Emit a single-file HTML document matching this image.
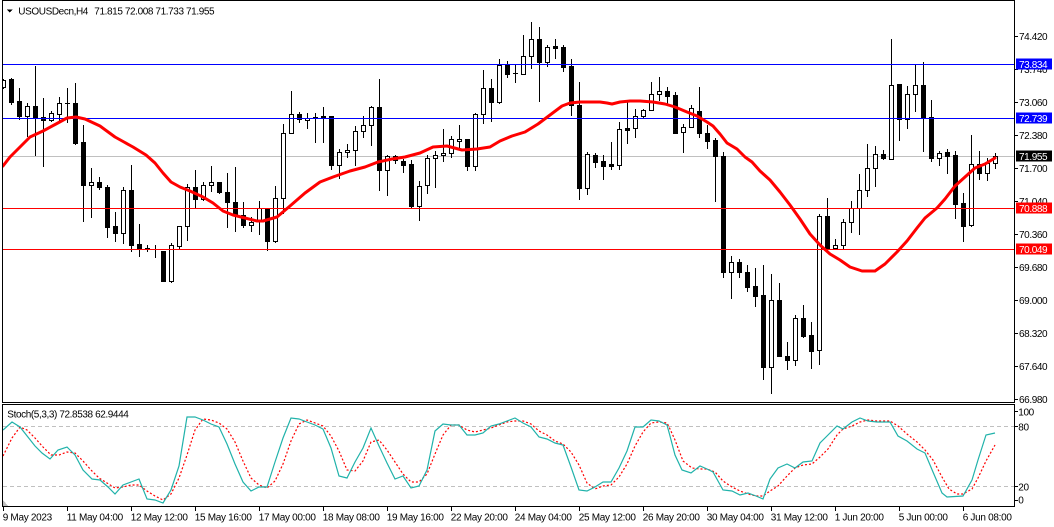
<!DOCTYPE html>
<html><head><meta charset="utf-8"><style>
html,body{margin:0;padding:0;background:#fff;width:1054px;height:527px;overflow:hidden}
svg{display:block}
text{font-family:"Liberation Sans",Arial,sans-serif;font-size:10px;fill:#000;letter-spacing:-0.4px}
.t{letter-spacing:-0.3px}
.w{fill:#fff}
</style></head><body>
<svg width="1054" height="527" viewBox="0 0 1054 527" xmlns="http://www.w3.org/2000/svg" shape-rendering="crispEdges">
<defs>
<clipPath id="cm"><rect x="3" y="1" width="1011" height="401"/></clipPath>
<clipPath id="cs"><rect x="3" y="405" width="1011" height="101"/></clipPath>
</defs>
<rect width="1054" height="527" fill="#fff"/>
<!-- frames -->
<rect x="2.5" y="0.5" width="1012" height="402" fill="none" stroke="#000"/>
<rect x="2.5" y="404.5" width="1012" height="102" fill="none" stroke="#000"/>

<g clip-path="url(#cm)">
<line x1="2" y1="156.5" x2="1014" y2="156.5" stroke="#C0C0C0"/>
<g id="candles"></g>
<line x1="2" y1="64.5" x2="1014" y2="64.5" stroke="#0000FF"/>
<line x1="2" y1="118.5" x2="1014" y2="118.5" stroke="#0000FF"/>
<line x1="2" y1="208.5" x2="1014" y2="208.5" stroke="#FF0000"/>
<line x1="2" y1="249.5" x2="1014" y2="249.5" stroke="#FF0000"/>
<polyline shape-rendering="auto" fill="none" stroke="#FF0000" stroke-width="3" stroke-linejoin="round" stroke-linecap="round" points="3,166 10,157 20,147 30,137 43,131 56,124 67,118 76,117 85,119 100,126 115,137 124,142 133,147 146,155 155,163 163,173 171,182 180,187 190,191 203,197 213,203 223,211 233,215 245,218 257,221 263,221 277,217 290,206 305,193 320,182 333,177 350,171 365,167 378,162 392,159 405,157 420,153 433,147 447,146 462,150 477,149 490,147 500,141 512,136 525,132 538,124 550,115 562,106 570,103 580,102 600,102 607,103 612,104 620,102 630,101 640,101 653,102 665,104 675,107 687,112 697,116 707,122 713,126 720,134 727,143 737,149 745,157 752,162 760,171 770,180 780,192 790,205 800,219 810,234 820,245 830,254 840,260 850,267 862,271 875,271 885,264 897,252 907,241 917,228 925,218 937,208 945,199 955,186 965,177 975,168 985,164 995,158"/>
</g>

<!-- title -->
<polygon points="7,9.5 12.5,9.5 9.75,12.5" fill="#000"/>
<text x="18.3" y="14.3">USOUSDecn,H4</text>
<text x="94.3" y="14.3">71.815 72.008 71.733 71.955</text>

<!-- price axis -->
<g stroke="#000">
<line x1="1015" y1="36.5" x2="1018" y2="36.5"/><line x1="1015" y1="69.5" x2="1018" y2="69.5"/>
<line x1="1015" y1="102.5" x2="1018" y2="102.5"/><line x1="1015" y1="135.5" x2="1018" y2="135.5"/>
<line x1="1015" y1="168.5" x2="1018" y2="168.5"/><line x1="1015" y1="201.5" x2="1018" y2="201.5"/>
<line x1="1015" y1="234.5" x2="1018" y2="234.5"/><line x1="1015" y1="267.5" x2="1018" y2="267.5"/>
<line x1="1015" y1="300.5" x2="1018" y2="300.5"/><line x1="1015" y1="333.5" x2="1018" y2="333.5"/>
<line x1="1015" y1="366.5" x2="1018" y2="366.5"/><line x1="1015" y1="399.5" x2="1018" y2="399.5"/>
</g>
<text x="1019" y="39.8">74.420</text>
<text x="1019" y="72.8">73.740</text>
<text x="1019" y="105.8">73.060</text>
<text x="1019" y="138.8">72.380</text>
<text x="1019" y="171.8">71.700</text>
<text x="1019" y="204.8">71.040</text>
<text x="1019" y="237.8">70.360</text>
<text x="1019" y="270.8">69.680</text>
<text x="1019" y="303.8">69.000</text>
<text x="1019" y="336.8">68.320</text>
<text x="1019" y="369.8">67.640</text>
<text x="1019" y="402.8">66.980</text>

<rect x="1016" y="58.5" width="36" height="11" fill="#0000FF"/>
<text class="w" x="1019" y="67.8">73.834</text>
<rect x="1016" y="112.5" width="36" height="11" fill="#0000FF"/>
<text class="w" x="1019" y="121.8">72.739</text>
<rect x="1016" y="150.5" width="36" height="11" fill="#000"/>
<text class="w" x="1019" y="159.8">71.955</text>
<rect x="1016" y="202.5" width="36" height="11" fill="#FF0000"/>
<text class="w" x="1019" y="211.8">70.888</text>
<rect x="1016" y="243.5" width="36" height="11" fill="#FF0000"/>
<text class="w" x="1019" y="252.8">70.049</text>

<!-- stochastic -->
<g clip-path="url(#cs)">
<line x1="3" y1="426.5" x2="1014" y2="426.5" stroke="#C0C0C0" stroke-dasharray="4,3"/>
<line x1="3" y1="486.5" x2="1014" y2="486.5" stroke="#C0C0C0" stroke-dasharray="4,3"/>
<polyline shape-rendering="auto" fill="none" stroke="#FF0000" stroke-width="1.2" stroke-dasharray="2,2" points="3,456 12,438 20,427 27,430 35,438 43,447 51,455 59,455 67,452 75,453 83,461 91,470 99,478 107,483 115,488 123,487 131,485 139,485 147,491 155,496 163,500 171,494 179,478 187,455 195,430 203,419 211,420 219,423 227,429 235,442 243,461 251,478 259,485 267,488 275,481 283,464 291,441 299,424 307,420 315,423 323,426 331,436 339,451 347,470 355,471 363,461 371,442 379,440 387,450 395,462 403,474 411,482 419,482 427,474 435,454 443,435 451,425 459,425 467,430 475,432 483,430 491,428 499,425 507,422 515,421 523,421 531,424 539,431 547,435 555,441 563,444 571,452 579,465 587,483 595,489 603,486 611,485 619,477 627,464 635,446 643,432 651,423 659,422 667,423 670,429 675,440 683,461 692,468 700,469 707,469 715,472 723,481 732,487 740,491 748,494 756,496 763,496 770,491 778,486 787,476 795,468 803,465 812,464 820,457 828,449 837,435 843,429 852,426 860,422 868,420 877,421 890,421 898,426 907,434 917,442 925,450 933,460 942,477 949,489 957,494 963,494 972,489 978,478 986,461 995,445"/>
<polyline shape-rendering="auto" fill="none" stroke="#20B2AA" stroke-width="1.2" points="3,430 12,422 20,427 35,446 42,453 50,459 58,450 67,447 75,455 83,470 92,479 100,480 108,487 115,494 123,485 131,482 139,479 147,499 155,500 163,503 171,490 179,466 187,417 195,417 203,420 211,424 219,427 227,444 235,464 243,482 251,491 259,487 267,487 275,462 283,438 291,418 299,419 307,422 315,425 323,429 331,448 339,476 347,478 355,462 363,448 371,428 379,446 387,463 395,479 403,476 411,488 419,486 427,470 435,431 443,424 451,425 459,425 467,435 475,435 483,433 491,426 499,424 507,421 515,418 523,423 531,427 539,437 547,439 555,443 563,445 571,467 579,490 587,491 595,487 603,482 611,482 619,468 627,451 635,427 643,427 651,420 659,421 667,425 670,436 675,455 682,470 691,473 700,466 707,469 713,472 723,490 732,491 740,495 748,493 756,496 763,499 770,479 778,468 787,464 795,468 803,462 812,461 820,443 827,436 837,426 843,429 852,422 860,418 868,421 877,422 890,422 898,436 907,441 917,449 925,453 933,472 942,493 947,497 963,496 972,480 978,460 986,435 995,433"/>
<polygon points="3,500 3,506 8,506" fill="#BDBDBD"/>
</g>
<text x="7.3" y="417.6">Stoch(5,3,3) 72.8538 62.9444</text>
<g stroke="#000">
<line x1="1015" y1="411.5" x2="1018" y2="411.5"/><line x1="1015" y1="426.5" x2="1018" y2="426.5"/>
<line x1="1015" y1="486.5" x2="1018" y2="486.5"/><line x1="1015" y1="500.5" x2="1018" y2="500.5"/>
</g>
<text x="1018.3" y="415.3">100</text>
<text x="1018.3" y="430.3">80</text>
<text x="1018.3" y="490.3">20</text>
<text x="1018.3" y="503.6">0</text>

<!-- time axis -->
<g stroke="#000">
<line x1="3.5" y1="507" x2="3.5" y2="511"/><line x1="67.5" y1="507" x2="67.5" y2="511"/>
<line x1="131.5" y1="507" x2="131.5" y2="511"/><line x1="195.5" y1="507" x2="195.5" y2="511"/>
<line x1="259.5" y1="507" x2="259.5" y2="511"/><line x1="323.5" y1="507" x2="323.5" y2="511"/>
<line x1="387.5" y1="507" x2="387.5" y2="511"/><line x1="451.5" y1="507" x2="451.5" y2="511"/>
<line x1="515.5" y1="507" x2="515.5" y2="511"/><line x1="579.5" y1="507" x2="579.5" y2="511"/>
<line x1="643.5" y1="507" x2="643.5" y2="511"/><line x1="707.5" y1="507" x2="707.5" y2="511"/>
<line x1="771.5" y1="507" x2="771.5" y2="511"/><line x1="835.5" y1="507" x2="835.5" y2="511"/>
<line x1="899.5" y1="507" x2="899.5" y2="511"/><line x1="963.5" y1="507" x2="963.5" y2="511"/>
</g>
<g class="t">
<text class="t" x="2.7" y="520.4">9 May 2023</text>
<text class="t" x="66.7" y="520.4">11 May 04:00</text>
<text class="t" x="130.7" y="520.4">12 May 12:00</text>
<text class="t" x="194.7" y="520.4">15 May 16:00</text>
<text class="t" x="258.7" y="520.4">17 May 00:00</text>
<text class="t" x="322.7" y="520.4">18 May 08:00</text>
<text class="t" x="386.7" y="520.4">19 May 16:00</text>
<text class="t" x="450.7" y="520.4">22 May 20:00</text>
<text class="t" x="514.7" y="520.4">24 May 04:00</text>
<text class="t" x="578.7" y="520.4">25 May 12:00</text>
<text class="t" x="642.7" y="520.4">26 May 20:00</text>
<text class="t" x="706.7" y="520.4">30 May 04:00</text>
<text class="t" x="770.7" y="520.4">31 May 12:00</text>
<text class="t" x="834.7" y="520.4">1 Jun 20:00</text>
<text class="t" x="898.7" y="520.4">5 Jun 00:00</text>
<text class="t" x="962.7" y="520.4">6 Jun 08:00</text>
</g>
</svg>
<script>
var C=[[79,88,80,87,1],[78,104,79,102,0],[88,119,101,116,0],[103,136,106,116,1],[66,155,106,117,0],[98,166,117,120,0],[111,121,113,120,1],[97,121,103,114,1],[88,122,103,104,1],[83,144,103,143,0],
[125,221,142,185,0],[168,217,182,185,1],[177,189,182,187,0],[185,237,187,227,0],[212,241,226,233,0],[187,243,190,233,1],[165,251,190,245,0],[224,256,244,249,0],[245,251,248,249,1],[245,257,249,250,0],
[251,281,251,281,0],[243,282,245,281,1],[226,249,226,246,1],[184,240,187,226,1],[170,207,187,199,0],[182,200,185,199,1],[166,191,182,185,1],[182,193,182,192,0],[173,227,192,202,0],[167,231,202,215,0],
[202,227,215,225,0],[217,231,222,225,1],[201,234,208,221,1],[208,250,208,241,0],[186,242,198,241,1],[124,213,133,198,1],[91,133,114,133,1],[112,122,114,119,0],[113,128,118,120,1],[113,142,117,118,0],
[107,142,116,118,0],[116,169,116,165,0],[149,178,152,165,1],[144,157,150,152,1],[126,165,131,150,1],[116,137,125,131,1],[106,145,107,125,1],[79,190,107,170,0],[155,195,156,170,1],[155,163,156,160,0],
[159,172,161,165,0],[160,208,164,206,0],[181,220,186,206,1],[155,193,158,185,1],[151,187,155,158,1],[129,161,153,155,1],[136,157,139,153,1],[125,147,139,141,1],[139,170,139,166,0],[113,170,114,166,1],
[70,123,88,114,1],[79,121,88,102,0],[59,103,65,102,1],[61,77,65,74,0],[64,82,73,74,1],[35,74,56,74,1],[22,68,39,56,1],[27,101,39,62,0],[45,66,47,62,1],[39,58,46,48,0],
[45,71,47,67,0],[59,115,66,105,0],[82,199,105,188,0],[152,194,154,188,1],[153,167,155,162,0],[155,179,161,166,0],[142,169,164,166,0],[122,169,129,165,1],[102,143,128,130,0],[109,137,116,128,1],
[109,117,110,116,1],[82,110,94,110,1],[77,100,91,94,1],[87,103,91,96,0],[92,133,95,133,0],[124,152,127,132,1],[105,127,108,127,1],[87,137,111,133,0],[125,148,133,141,0],[138,201,140,156,0],
[152,277,156,272,0],[256,298,262,272,1],[259,277,262,272,0],[265,291,272,287,0],[268,306,286,296,0],[265,379,295,367,0],[274,393,300,367,1],[283,356,300,356,0],[342,369,356,360,0],[315,365,318,360,1],
[305,337,318,336,0],[322,368,335,351,0],[214,364,216,350,1],[198,250,216,249,0],[239,249,245,248,1],[219,249,222,245,1],[201,232,208,222,1],[174,234,190,208,1],[144,196,168,190,1],[146,186,154,168,1],
[150,159,154,158,0],[39,159,85,159,1],[84,140,84,119,0],[86,128,94,119,1],[65,111,85,94,1],[62,151,85,118,0],[100,161,117,158,0],[151,165,153,158,1],[149,173,152,156,0],[151,218,155,204,0],
[193,241,203,226,0],[135,226,164,225,1],[151,179,164,173,0],[158,180,163,173,1],[153,168,156,163,1]];
var s='';
for(var i=0;i<C.length;i++){
 var x=3+8*i,c=C[i],h=c[0],l=c[1],t=Math.min(c[2],c[3]),b=Math.max(c[2],c[3]),w=c[4];
 s+='<rect x="'+x+'" y="'+h+'" width="1" height="'+(l-h+1)+'" fill="#000"/>';
 if(b-t<=1){s+='<rect x="'+(x-2)+'" y="'+t+'" width="5" height="1" fill="#000"/>';}
 else if(w){s+='<rect x="'+(x-1.5)+'" y="'+(t+0.5)+'" width="4" height="'+(b-t)+'" fill="#fff" stroke="#000" stroke-width="1"/>';}
 else{s+='<rect x="'+(x-2)+'" y="'+t+'" width="5" height="'+(b-t+1)+'" fill="#000"/>';}
}
document.getElementById('candles').innerHTML=s;
</script>
</body></html>
